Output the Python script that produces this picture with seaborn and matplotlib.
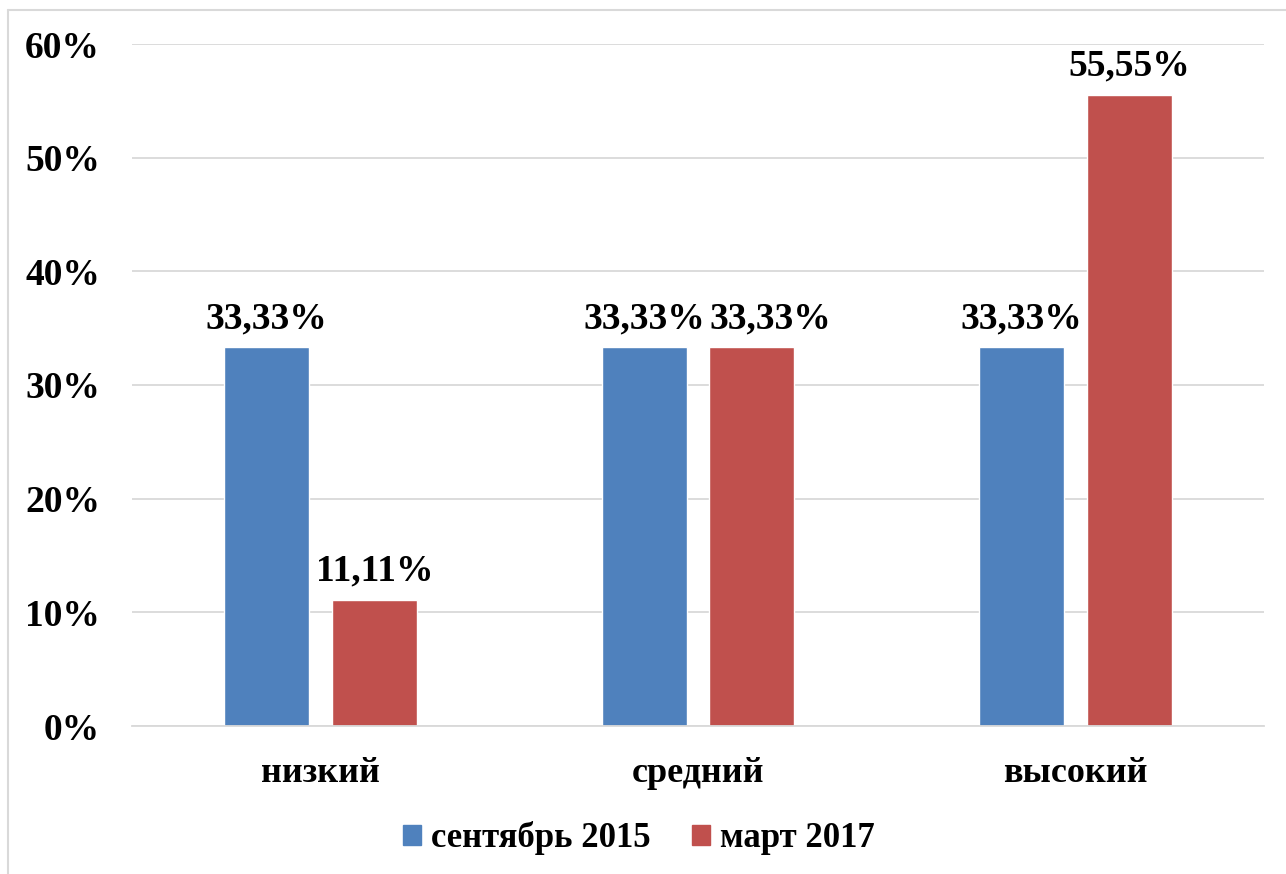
import matplotlib
matplotlib.use("Agg")
import matplotlib.pyplot as plt
import seaborn as sns
import pandas as pd
from matplotlib.patches import Rectangle
from matplotlib.lines import Line2D
from matplotlib.ticker import FuncFormatter

categories = ["низкий", "средний", "высокий"]
series = ["сентябрь 2015", "март 2017"]
sep2015 = [33.33, 33.33, 33.33]
mar2017 = [11.11, 33.33, 55.55]
yticks = [0, 10, 20, 30, 40, 50, 60]
colors = ["#4F81BD", "#C0504D"]

df = pd.DataFrame({
    "cat": categories * 2,
    "series": [series[0]] * 3 + [series[1]] * 3,
    "val": sep2015 + mar2017,
})

sns.set_theme(style="white")
plt.rcParams["font.family"] = ["Liberation Serif", "DejaVu Serif"]
plt.rcParams["font.weight"] = "bold"
plt.rcParams["text.color"] = "black"
plt.rcParams["xtick.color"] = "black"
plt.rcParams["ytick.color"] = "black"

W, H = 1286, 874
fig = plt.figure(figsize=(12.86, 8.74), dpi=100)
ax = fig.add_axes([132 / W, 1 - 726 / H, (1264 - 132) / W, (726 - 44) / H])
sns.barplot(data=df, x="cat", y="val", hue="series", order=categories,
            hue_order=series, palette=colors, width=0.572, gap=0.213,
            ax=ax, legend=True, saturation=1)

ax.set_xlim(-0.5, 2.5)
ax.set_ylim(0, 60)
ax.set_yticks(yticks)
ax.yaxis.set_major_formatter(FuncFormatter(lambda v, p: f"{int(v)}%"))
ax.grid(axis="y", color="#D9D9D9", linewidth=1.3)
ax.set_axisbelow(True)
for s in ["top", "right", "left"]:
    ax.spines[s].set_visible(False)
ax.spines["bottom"].set_color("#D9D9D9")
ax.spines["bottom"].set_linewidth(1.3)
ax.tick_params(axis="y", length=0, labelsize=27, pad=23)
ax.tick_params(axis="x", length=0, labelsize=26, pad=22)
for lab in ax.get_xticklabels() + ax.get_yticklabels():
    lab.set_fontweight("bold")
ax.set_xlabel("")
ax.set_ylabel("")

# value labels; nudge a label right when it would collide with its neighbour
for i, cont in enumerate(ax.containers):
    labels = [f"{v:.2f}%".replace(".", ",") for v in cont.datavalues]
    anns = ax.bar_label(cont, labels=labels, padding=8, fontsize=27, fontweight="bold")
    if i == 1:
        for j, ann in enumerate(anns):
            if abs(mar2017[j] - sep2015[j]) < 5:
                ann.xyann = (13, ann.xyann[1])

ax.legend_.remove()
handles = [Rectangle((0, 0), 1, 1, color=c) for c in colors]
fig.legend(handles, series, loc="center", bbox_to_anchor=(0.497, 1 - 838 / H), ncol=2,
           frameon=False, prop={"size": 25, "weight": "bold"},
           handlelength=0.5, handleheight=0.5, handletextpad=0.3, columnspacing=1.2)

fig.add_artist(Line2D([8 / W, 1], [1 - 10 / H, 1 - 10 / H], transform=fig.transFigure,
                      color="#D9D9D9", linewidth=1.5))
fig.add_artist(Line2D([8 / W, 8 / W], [0, 1 - 10 / H], transform=fig.transFigure,
                      color="#D9D9D9", linewidth=1.5))
fig.savefig("out.png", dpi=100, facecolor="white")
